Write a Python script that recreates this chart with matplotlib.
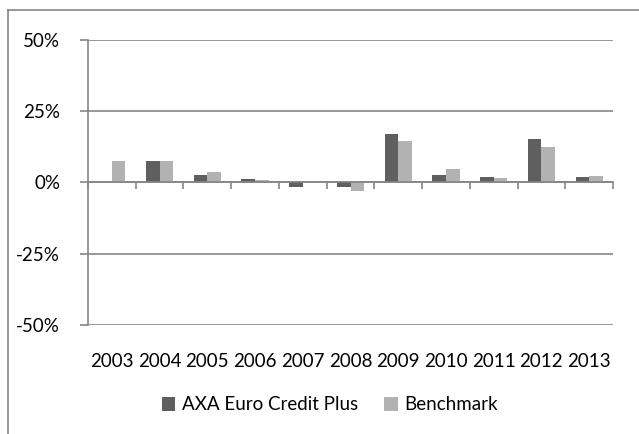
import numpy as np
import matplotlib
matplotlib.use("Agg")
import matplotlib.pyplot as plt
from matplotlib.lines import Line2D

# annual returns, %
years = ["2003", "2004", "2005", "2006", "2007", "2008", "2009", "2010", "2011", "2012", "2013"]
axa = [0.0, 7.6, 2.7, 1.0, -1.6, -1.5, 17.0, 2.6, 1.9, 15.3, 2.0]
bench = [7.5, 7.3, 3.7, 0.7, 0.3, -3.0, 14.5, 4.7, 1.6, 12.5, 2.2]
series_names = ["AXA Euro Credit Plus", "Benchmark"]
yticks = [-50, -25, 0, 25, 50]

C_DARK = "#5f5f5f"
C_LIGHT = "#b2b2b2"
C_GRID = "#868686"
FONT = "Lato"
FS = 13.5

W, H = 639, 434
fig = plt.figure(figsize=(W / 100, H / 100), dpi=100)
plt.rcParams["font.family"] = [FONT, "DejaVu Sans"]

# outer chart frame (only top and left edges visible)
fig.add_artist(Line2D([8 / W, 8 / W], [0, 1 - 10 / H], transform=fig.transFigure,
                      color=C_GRID, lw=1.2))
fig.add_artist(Line2D([8 / W, 1], [1 - 10 / H, 1 - 10 / H], transform=fig.transFigure,
                      color=C_GRID, lw=1.2))

left, right, top, bottom = 88, 613, 39.5, 325
ax = fig.add_axes([left / W, 1 - bottom / H, (right - left) / W, (bottom - top) / H])

x = np.arange(len(years))
bw = 0.285
ax.bar(x - bw / 2, axa, bw, color=C_DARK, label=series_names[0], zorder=3)
ax.bar(x + bw / 2, bench, bw, color=C_LIGHT, label=series_names[1], zorder=3)

ax.set_xlim(-0.5, len(years) - 0.5)
ax.set_ylim(-50, 50)
ax.set_yticks(yticks)
ax.set_yticklabels([f"{v}%" for v in yticks], fontsize=FS)
ax.yaxis.grid(True, color=C_GRID, lw=1.2, zorder=0)
ax.tick_params(axis="y", length=6, width=1.2, color=C_GRID, pad=14)

for s in ["top", "right"]:
    ax.spines[s].set_visible(False)
ax.spines["left"].set_color(C_GRID)
ax.spines["left"].set_linewidth(1.2)

# category axis crossing at 0 with boundary tick marks
ax.spines["bottom"].set_position(("data", 0))
ax.spines["bottom"].set_color(C_GRID)
ax.spines["bottom"].set_linewidth(1.2)
ax.spines["bottom"].set_zorder(4)
ax.set_xticks(np.arange(len(years) + 1) - 0.5)
ax.set_xticklabels([])
ax.tick_params(axis="x", length=5, width=1.2, color=C_GRID, direction="out")

# category labels below the plot area
lab = ax.secondary_xaxis("bottom")
lab.set_xticks(x)
lab.set_xticklabels(years, fontsize=FS)
lab.tick_params(length=0, pad=20)
lab.spines["bottom"].set_visible(False)

fig.legend(loc="center", bbox_to_anchor=(330 / W, 1 - 405 / H), ncol=2, frameon=False,
           fontsize=FS, handlelength=0.7, handleheight=0.7, handletextpad=0.35,
           columnspacing=1.4)

fig.savefig("out.png", dpi=100)
